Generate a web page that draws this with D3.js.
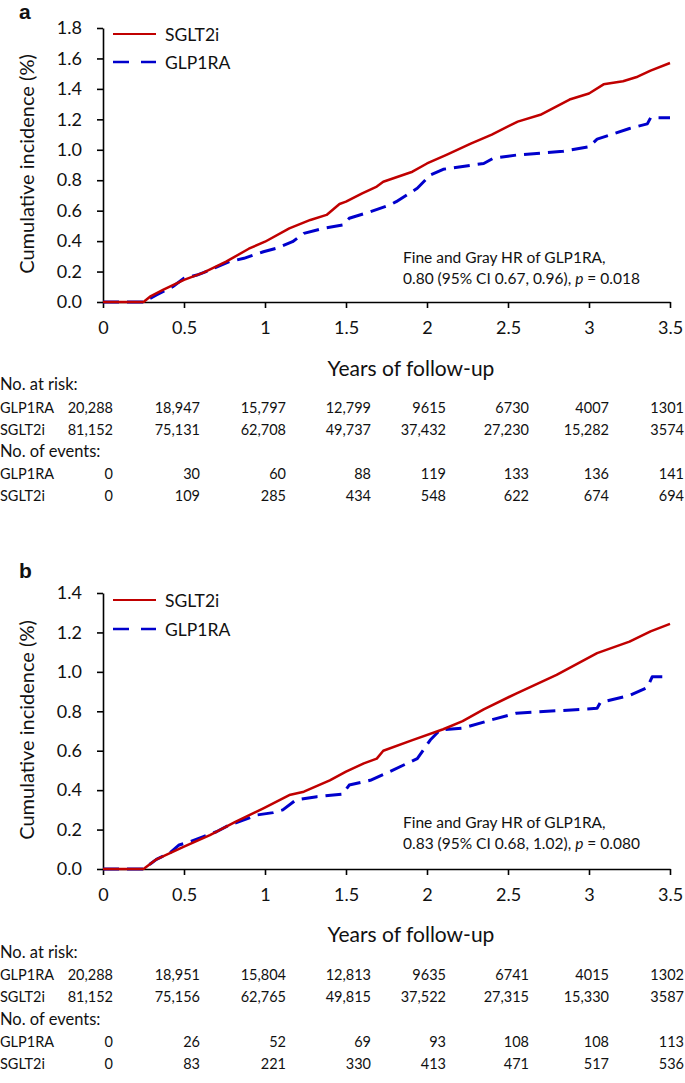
<!DOCTYPE html>
<html>
<head>
<meta charset="utf-8">
<script src="https://cdn.jsdelivr.net/npm/d3@7"></script>
<style>
  html, body { margin: 0; padding: 0; background: #fff; }
  svg { display: block; font-family: Lato, "Open Sans", sans-serif; }
</style>
</head>
<body>
<svg id="chart" width="685" height="1083"></svg>
<script>
// ---------- DATA ----------
const timeTicks = [0, 0.5, 1, 1.5, 2, 2.5, 3, 3.5];
const timeTickLabels = ["0", "0.5", "1", "1.5", "2", "2.5", "3", "3.5"];
const seriesNames = ["SGLT2i", "GLP1RA"];

// Panel a
const aYTicks = [0, 0.2, 0.4, 0.6, 0.8, 1.0, 1.2, 1.4, 1.6, 1.8];
const aSGLT2i = [[0,0],[0.25,0],[0.29,0.035],[0.37,0.079],[0.5,0.145],[0.62,0.193],[0.76,0.265],[0.9,0.35],[1.0,0.396],[1.15,0.484],[1.28,0.539],[1.38,0.572],[1.46,0.644],[1.5,0.659],[1.6,0.714],[1.69,0.758],[1.73,0.79],[1.91,0.856],[2.0,0.91],[2.12,0.966],[2.27,1.04],[2.4,1.10],[2.56,1.185],[2.7,1.23],[2.88,1.33],[3.0,1.37],[3.09,1.43],[3.21,1.45],[3.3,1.48],[3.38,1.52],[3.5,1.57]];
const aGLP1RA = [[0,0],[0.25,0],[0.33,0.046],[0.43,0.10],[0.5,0.156],[0.58,0.177],[0.66,0.21],[0.78,0.265],[0.87,0.287],[0.99,0.33],[1.07,0.353],[1.17,0.396],[1.24,0.451],[1.36,0.484],[1.48,0.506],[1.52,0.55],[1.65,0.593],[1.77,0.637],[1.81,0.659],[1.94,0.747],[2.02,0.834],[2.1,0.872],[2.35,0.91],[2.41,0.945],[2.55,0.965],[2.84,0.99],[3.0,1.02],[3.05,1.07],[3.25,1.14],[3.36,1.17],[3.38,1.21],[3.5,1.21]];
const aNote1 = "Fine and Gray HR of GLP1RA,";
const aNote2 = "0.80 (95% CI 0.67, 0.96), ";
const aNoteP = "0.018";
const aRiskGLP1RA = ["20,288","18,947","15,797","12,799","9615","6730","4007","1301"];
const aRiskSGLT2i = ["81,152","75,131","62,708","49,737","37,432","27,230","15,282","3574"];
const aEventsGLP1RA = [0,30,60,88,119,133,136,141];
const aEventsSGLT2i = [0,109,285,434,548,622,674,694];

// Panel b
const bYTicks = [0, 0.2, 0.4, 0.6, 0.8, 1.0, 1.2, 1.4];
const bSGLT2i = [[0,0],[0.25,0],[0.33,0.049],[0.5,0.113],[0.66,0.172],[0.82,0.24],[0.99,0.308],[1.15,0.375],[1.24,0.392],[1.4,0.45],[1.5,0.494],[1.61,0.536],[1.69,0.56],[1.73,0.60],[1.91,0.654],[2.1,0.709],[2.22,0.75],[2.35,0.81],[2.55,0.89],[2.8,0.985],[3.05,1.095],[3.25,1.153],[3.38,1.205],[3.5,1.243]];
const bGLP1RA = [[0,0],[0.25,0],[0.33,0.049],[0.41,0.08],[0.47,0.122],[0.54,0.139],[0.62,0.164],[0.7,0.189],[0.78,0.223],[0.87,0.249],[0.95,0.274],[1.05,0.286],[1.11,0.30],[1.19,0.35],[1.32,0.367],[1.48,0.38],[1.52,0.426],[1.65,0.45],[1.77,0.494],[1.94,0.56],[2.02,0.654],[2.08,0.705],[2.22,0.715],[2.35,0.745],[2.39,0.755],[2.55,0.79],[3.05,0.815],[3.07,0.845],[3.25,0.88],[3.36,0.92],[3.39,0.975],[3.5,0.975]];
const bNote1 = "Fine and Gray HR of GLP1RA,";
const bNote2 = "0.83 (95% CI 0.68, 1.02), ";
const bNoteP = "0.080";
const bRiskGLP1RA = ["20,288","18,951","15,804","12,813","9635","6741","4015","1302"];
const bRiskSGLT2i = ["81,152","75,156","62,765","49,815","37,522","27,315","15,330","3587"];
const bEventsGLP1RA = [0,26,52,69,93,108,108,113];
const bEventsSGLT2i = [0,83,221,330,413,471,517,536];

// ---------- LAYOUT / STYLE ----------
const colRight = [113, 200, 286, 371, 446, 529, 609, 684];
const COLORS = { SGLT2i: "#c00000", GLP1RA: "#0000cc" };
const TXT = "#111";

const svg = d3.select("#chart");

function panel(cfg) {
  const g = svg.append("g");
  const x = d3.scaleLinear().domain([0, 3.5]).range([103, 670]);
  const y = d3.scaleLinear().domain([0, cfg.yMax]).range([cfg.y0, cfg.yTop]);

  // panel letter
  g.append("text").attr("x", 19).attr("y", cfg.letterY)
    .attr("font-size", 21).attr("font-weight", 700).attr("fill", TXT)
    .attr("font-family", "Liberation Sans, Arial, sans-serif")
    .text(cfg.letter);

  // y axis
  const yAxis = d3.axisLeft(y).tickValues(cfg.yTicks).tickFormat(d3.format(".1f"))
    .tickSize(6).tickSizeOuter(0).tickPadding(15);
  const ya = g.append("g").attr("transform", `translate(${x(0)},0)`).call(yAxis);
  ya.selectAll("path, line").attr("stroke", "#000").attr("stroke-width", 1.6);
  ya.selectAll("text").attr("font-size", 18).attr("fill", TXT).attr("font-family", "Lato, sans-serif");

  // x axis
  const xAxis = d3.axisBottom(x).tickValues(timeTicks)
    .tickFormat((d, i) => timeTickLabels[i]).tickSize(6).tickSizeOuter(0).tickPadding(13);
  const xa = g.append("g").attr("transform", `translate(0,${y(0)})`).call(xAxis);
  xa.selectAll("path, line").attr("stroke", "#000").attr("stroke-width", 1.6);
  xa.selectAll("text").attr("font-size", 18).attr("fill", TXT).attr("font-family", "Lato, sans-serif");

  // y title
  g.append("text")
    .attr("transform", `translate(26,${cfg.yTitleY}) rotate(-90)`)
    .attr("text-anchor", "middle").attr("dominant-baseline", "central")
    .attr("font-size", 20).attr("fill", TXT)
    .text("Cumulative incidence (%)");

  // x title
  g.append("text").attr("x", 411).attr("y", cfg.xTitleY)
    .attr("text-anchor", "middle").attr("dominant-baseline", "central")
    .attr("font-size", 21).attr("fill", TXT)
    .text("Years of follow-up");

  // lines
  const line = d3.line().x(d => x(d[0])).y(d => y(d[1])).curve(d3.curveLinear);
  g.append("path").datum(cfg.glp).attr("d", line)
    .attr("fill", "none").attr("stroke", COLORS.GLP1RA).attr("stroke-width", 3)
    .attr("stroke-dasharray", "16,8").attr("stroke-linejoin", "round");
  g.append("path").datum(cfg.sglt).attr("d", line)
    .attr("fill", "none").attr("stroke", COLORS.SGLT2i).attr("stroke-width", 2.5)
    .attr("stroke-linejoin", "round");

  // legend
  seriesNames.forEach((name, i) => {
    const ly = cfg.legendY[i];
    g.append("line").attr("x1", 113).attr("x2", 156).attr("y1", ly).attr("y2", ly)
      .attr("stroke", COLORS[name]).attr("stroke-width", name === "GLP1RA" ? 2.6 : 2.2)
      .attr("stroke-dasharray", name === "GLP1RA" ? "16,12" : null);
    g.append("text").attr("x", 165).attr("y", ly).attr("dominant-baseline", "central")
      .attr("font-size", 17.5).attr("fill", TXT).text(name);
  });

  // annotation
  g.append("text").attr("x", 403).attr("y", cfg.noteY[0]).attr("dominant-baseline", "central")
    .attr("font-size", 15.5).attr("fill", TXT).text(cfg.note1);
  const t2 = g.append("text").attr("x", 403).attr("y", cfg.noteY[1]).attr("dominant-baseline", "central")
    .attr("font-size", 15.5).attr("fill", TXT);
  t2.append("tspan").text(cfg.note2);
  t2.append("tspan").attr("font-style", "italic").text("p");
  t2.append("tspan").text(" = " + cfg.noteP);

  // table
  const rows = cfg.tableY;
  g.append("text").attr("x", 0).attr("y", rows[0]).attr("dominant-baseline", "central")
    .attr("font-size", 16.5).attr("fill", TXT).text("No. at risk:");
  g.append("text").attr("x", 0).attr("y", rows[3]).attr("dominant-baseline", "central")
    .attr("font-size", 16.5).attr("fill", TXT).text("No. of events:");
  const body = [
    ["GLP1RA", cfg.riskGLP, rows[1]],
    ["SGLT2i", cfg.riskSGLT, rows[2]],
    ["GLP1RA", cfg.evGLP, rows[4]],
    ["SGLT2i", cfg.evSGLT, rows[5]]
  ];
  body.forEach(([lab, vals, ry]) => {
    g.append("text").attr("x", 0).attr("y", ry).attr("dominant-baseline", "central")
      .attr("font-size", 14.5).attr("fill", TXT).text(lab);
    g.selectAll(null).data(vals).enter().append("text")
      .attr("x", (d, i) => colRight[i]).attr("y", ry)
      .attr("text-anchor", "end").attr("dominant-baseline", "central")
      .attr("font-size", 14.5).attr("fill", TXT).text(d => d);
  });
}

panel({
  letter: "a", letterY: 19, yMax: 1.8, y0: 302, yTop: 28, yTicks: aYTicks,
  yTitleY: 164, xTitleY: 367, legendY: [34, 62], noteY: [257, 278],
  sglt: aSGLT2i, glp: aGLP1RA, note1: aNote1, note2: aNote2, noteP: aNoteP,
  tableY: [384, 407, 429, 451, 473, 495],
  riskGLP: aRiskGLP1RA, riskSGLT: aRiskSGLT2i, evGLP: aEventsGLP1RA, evSGLT: aEventsSGLT2i
});
panel({
  letter: "b", letterY: 578, yMax: 1.4, y0: 869, yTop: 593, yTicks: bYTicks,
  yTitleY: 730, xTitleY: 933, legendY: [600, 629], noteY: [822, 843],
  sglt: bSGLT2i, glp: bGLP1RA, note1: bNote1, note2: bNote2, noteP: bNoteP,
  tableY: [952, 974, 996, 1019, 1041, 1063],
  riskGLP: bRiskGLP1RA, riskSGLT: bRiskSGLT2i, evGLP: bEventsGLP1RA, evSGLT: bEventsSGLT2i
});
</script>
</body>
</html>
